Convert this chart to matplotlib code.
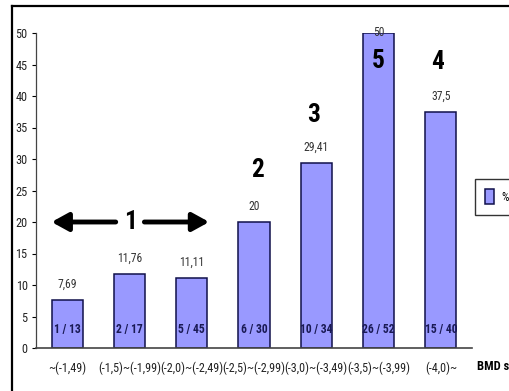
import matplotlib
matplotlib.use("Agg")
import matplotlib.pyplot as plt
import matplotlib.font_manager as fm
from matplotlib.lines import Line2D

# Data
categories = ["~(-1,49)", "(-1,5)~(-1,99)", "(-2,0)~(-2,49)", "(-2,5)~(-2,99)",
              "(-3,0)~(-3,49)", "(-3,5)~(-3,99)", "(-4,0)~"]
percent = [7.69, 11.76, 11.11, 20, 29.41, 50, 37.5]
value_labels = ["7,69", "11,76", "11,11", "20", "29,41", "50", "37,5"]
counts = ["1 / 13", "2 / 17", "5 / 45", "6 / 30", "10 / 34", "26 / 52", "15 / 40"]
group_marks = ["2", "3", "5", "4"]
group_mark_pos = [(3.05, 28.3), (3.95, 37.0), (4.99, 45.6), (5.95, 45.4)]
y_ticks = [0, 5, 10, 15, 20, 25, 30, 35, 40, 45, 50]


def pick_narrow_font():
    """Pick the narrowest sans family available on this system."""
    fonts = fm.fontManager.ttflist
    names = {f.name for f in fonts}
    for name in ("Liberation Sans Narrow", "Roboto Condensed",
                 "Open Sans Condensed", "Noto Sans Condensed"):
        if name in names:
            return dict(family=[name, "DejaVu Sans"], stretch="normal")
    if any(f.name == "DejaVu Sans" and f.stretch == "condensed" for f in fonts):
        return dict(family=["DejaVu Sans"], stretch="condensed")
    for name in ("Liberation Sans", "Roboto"):
        if name in names:
            return dict(family=[name, "DejaVu Sans"], stretch="normal")
    return dict(family=["DejaVu Sans"], stretch="normal")


FONT = pick_narrow_font()

W, H = 509, 391
fig = plt.figure(figsize=(W / 100, H / 100), dpi=100)
renderer = fig.canvas.get_renderer()


def fit_size(text, width_px, max_size, weight="normal"):
    """Font size at which `text` is about `width_px` pixels wide."""
    t = fig.text(0, 0, text, fontsize=10, fontweight=weight, **FONT)
    w = t.get_window_extent(renderer).width
    t.remove()
    return min(max_size, 10 * width_px / w)


size_cat = fit_size("(-1,5)~(-1,99)", 63, 10.5)
size_val = fit_size("29,41", 25, 10.5)
size_cnt = fit_size("10 / 34", 33, 13, "bold")
size_ytk = fit_size("50", 12, 10.5)
size_bmd = fit_size("BMD score", 54, 13, "bold")
size_grp = fit_size("3", 13, 19, "bold")

ax = fig.add_axes([36 / W, 1 - 348 / H, 436 / W, 315 / H])

x = list(range(len(categories)))
ax.bar(x, percent, width=0.5, color="#9999FF", edgecolor="#10104a",
       linewidth=1.1, label="%")

ax.set_xlim(-0.5, len(categories) - 0.5)
ax.set_ylim(0, 50)
ax.set_yticks(y_ticks)
ax.set_yticklabels([str(t) for t in y_ticks], fontsize=size_ytk,
                   color="#222222", **FONT)
ax.set_xticks(x)
ax.set_xticklabels(categories, fontsize=size_cat, color="#222222", **FONT)
ax.tick_params(axis="x", length=0, pad=10)
ax.tick_params(axis="y", direction="out", length=3, width=0.8, pad=3)

for side in ("top", "right"):
    ax.spines[side].set_visible(False)
ax.spines["left"].set_color("#444444")
ax.spines["bottom"].set_color("#444444")
ax.spines["left"].set_linewidth(0.9)
ax.spines["bottom"].set_linewidth(1.2)

# Percentage above each bar and count inside each bar
for xi, v, lab, cnt in zip(x, percent, value_labels, counts):
    ax.text(xi, min(v + 2.5, 50), lab, ha="center", va="center",
            fontsize=size_val, color="#333333", **FONT)
    ax.text(xi, 2.9, cnt, ha="center", va="center", fontsize=size_cnt,
            fontweight="bold", color="#1a1a55", **FONT)

# Group numbers
ax.text(1.01, 20, "1", ha="center", va="center", fontsize=size_grp,
        fontweight="bold", color="black", **FONT)
arrow = dict(arrowstyle="-|>,head_length=1.0,head_width=0.55",
             lw=3.5, color="black", shrinkA=0, shrinkB=0)
ax.annotate("", xy=(-0.25, 20), xytext=(0.78, 20), arrowprops=arrow)
ax.annotate("", xy=(2.28, 20), xytext=(1.24, 20), arrowprops=arrow)
for mark, (mx, my) in zip(group_marks, group_mark_pos):
    ax.text(mx, my, mark, ha="center", va="center", fontsize=size_grp,
            fontweight="bold", color="black", **FONT)

# Axis title on the right of the category axis
fig.text(477 / W, 1 - 367 / H, "BMD score", ha="left", va="center",
         fontsize=size_bmd, fontweight="bold", color="black", **FONT)

# Legend
leg = ax.legend(loc="upper left", bbox_to_anchor=(475 / W, 1 - 179 / H),
                bbox_transform=fig.transFigure, frameon=True,
                prop=fm.FontProperties(size=size_val, **FONT),
                fancybox=False, handlelength=0.7, handleheight=1.6,
                handletextpad=0.7, borderpad=0.9, borderaxespad=0)
leg.get_frame().set_edgecolor("black")
leg.get_frame().set_linewidth(1.0)

# Outer frame (top and left edges)
fig.add_artist(Line2D([12 / W, 1.0], [1 - 6 / H, 1 - 6 / H], color="black",
                      lw=1.6, transform=fig.transFigure))
fig.add_artist(Line2D([12 / W, 12 / W], [1 - 6 / H, 0.0], color="black",
                      lw=1.6, transform=fig.transFigure))

fig.savefig("out.png", dpi=100)
